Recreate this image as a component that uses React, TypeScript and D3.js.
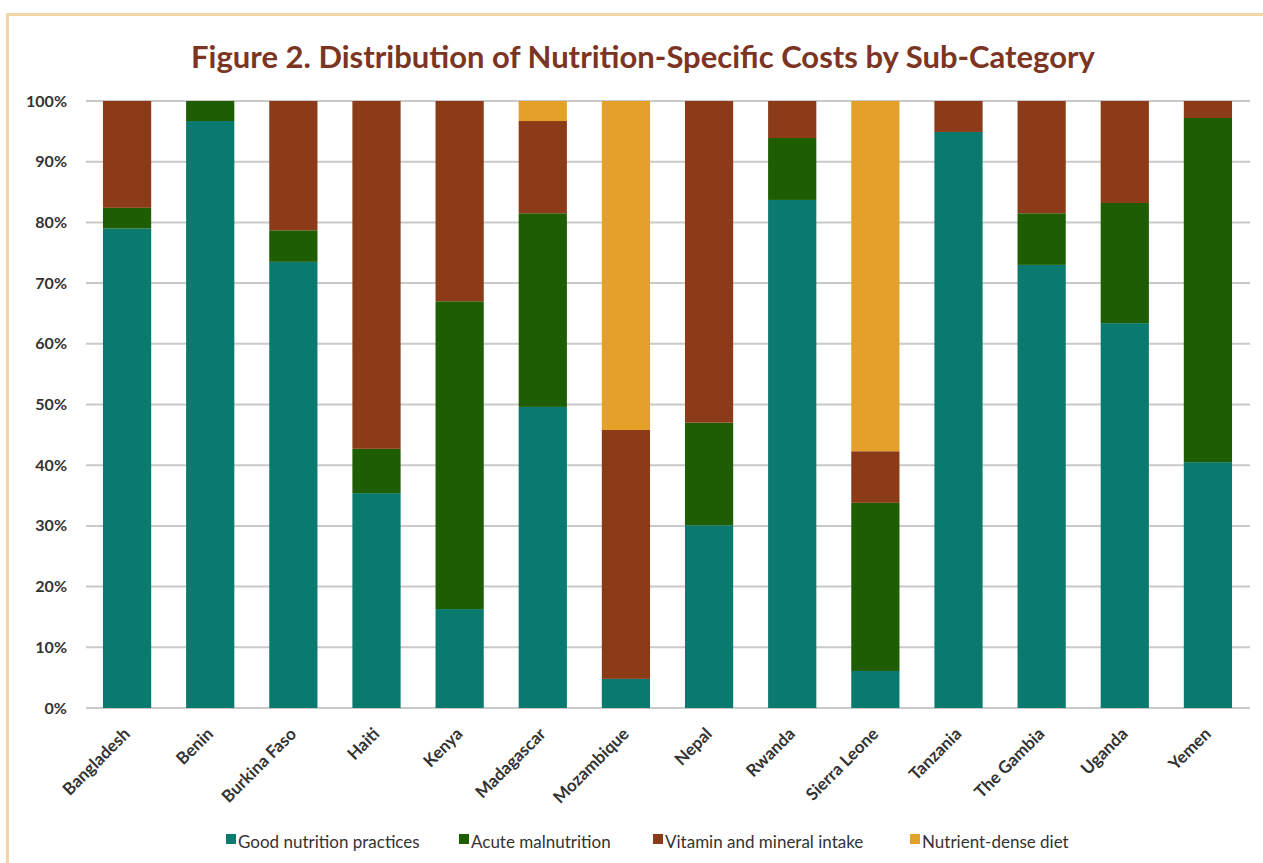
import React, { useEffect, useRef } from 'react';
import * as d3 from 'd3';

const countries = [
  'Bangladesh', 'Benin', 'Burkina Faso', 'Haiti', 'Kenya', 'Madagascar', 'Mozambique',
  'Nepal', 'Rwanda', 'Sierra Leone', 'Tanzania', 'The Gambia', 'Uganda', 'Yemen',
];
const seriesNames = [
  'Good nutrition practices', 'Acute malnutrition', 'Vitamin and mineral intake', 'Nutrient-dense diet',
];
const goodNutrition = [79, 96.7, 73.5, 35.4, 16.3, 49.6, 4.8, 30.1, 83.7, 6.1, 94.9, 73, 63.4, 40.5];
const acuteMalnutrition = [3.4, 3.3, 5.2, 7.3, 50.7, 31.9, 0, 16.9, 10.2, 27.7, 0, 8.5, 19.8, 56.7];
const vitaminMineral = [17.6, 0, 21.3, 57.3, 33, 15.2, 41, 53, 6.1, 8.5, 5.1, 18.5, 16.8, 2.8];
const nutrientDense = [0, 0, 0, 0, 0, 3.3, 54.2, 0, 0, 57.7, 0, 0, 0, 0];
const yTicks = [0, 10, 20, 30, 40, 50, 60, 70, 80, 90, 100];
const colors = ['#0a7a6f', '#1f5d02', '#8c3b19', '#e3a12a'];

const W = 1263;
const H = 863;
const font = 'Lato, "Open Sans", sans-serif';

const App: React.FC = () => {
  const svgRef = useRef<SVGSVGElement>(null);

  useEffect(() => {
    if (!svgRef.current) return;
    const svg = d3.select(svgRef.current);
    svg.selectAll('*').remove();

    const rows = countries.map((c, i) => ({
      country: c,
      s0: goodNutrition[i],
      s1: acuteMalnutrition[i],
      s2: vitaminMineral[i],
      s3: nutrientDense[i],
    }));

    const x = d3.scaleBand<string>().domain(countries).range([85.5, 1249.5]).paddingInner(0.42).paddingOuter(0.21);
    const y = d3.scaleLinear().domain([0, 100]).range([708, 101]);

    // frame
    svg.append('rect').attr('x', 0).attr('y', 0).attr('width', W).attr('height', H).attr('fill', '#fff');
    svg.append('path')
      .attr('d', `M7.5,${H} L7.5,14.5 L${W},14.5`)
      .attr('fill', 'none')
      .attr('stroke', '#f1d7a6')
      .attr('stroke-width', 3);

    // title
    svg.append('text')
      .attr('x', 643)
      .attr('y', 68)
      .attr('text-anchor', 'middle')
      .attr('font-family', font)
      .attr('font-weight', 'bold')
      .attr('font-size', '31px')
      .attr('fill', '#7b3522')
      .text('Figure 2. Distribution of Nutrition-Specific Costs by Sub-Category');

    // gridlines
    svg.append('g')
      .selectAll('line')
      .data(yTicks)
      .join('line')
      .attr('x1', 86)
      .attr('x2', 1250)
      .attr('y1', d => y(d))
      .attr('y2', d => y(d))
      .attr('stroke', '#c9c9c9')
      .attr('stroke-width', 2);

    // y labels
    svg.append('g')
      .selectAll('text')
      .data(yTicks)
      .join('text')
      .attr('x', 67)
      .attr('y', d => y(d) + 5.5)
      .attr('text-anchor', 'end')
      .attr('font-family', font)
      .attr('font-weight', 'bold')
      .attr('font-size', '16px')
      .attr('fill', '#333')
      .text(d => `${d}%`);

    // stacked bars
    const stack = d3.stack<any>().keys(['s0', 's1', 's2', 's3']);
    const layers = stack(rows as any);
    svg.append('g')
      .selectAll('g')
      .data(layers)
      .join('g')
      .attr('fill', (_, i) => colors[i])
      .selectAll('rect')
      .data(d => d)
      .join('rect')
      .attr('x', d => x(d.data.country)!)
      .attr('width', x.bandwidth())
      .attr('y', d => y(d[1]))
      .attr('height', d => Math.max(0, y(d[0]) - y(d[1])));

    // x labels
    svg.append('g')
      .selectAll('text')
      .data(countries)
      .join('text')
      .attr('transform', d => `translate(${x(d)! + x.bandwidth() / 2 + 4},${735}) rotate(-45)`)
      .attr('text-anchor', 'end')
      .attr('font-family', font)
      .attr('font-weight', 'bold')
      .attr('font-size', '17px')
      .attr('fill', '#333')
      .text(d => d);

    // legend
    const legendX = [226, 459, 653, 910];
    const lg = svg.append('g');
    seriesNames.forEach((name, i) => {
      lg.append('rect')
        .attr('x', legendX[i])
        .attr('y', 834)
        .attr('width', 10)
        .attr('height', 10)
        .attr('fill', colors[i]);
      lg.append('text')
        .attr('x', legendX[i] + 12)
        .attr('y', 848)
        .attr('font-family', font)
        .attr('font-size', '17px')
        .attr('fill', '#333')
        .text(name);
    });
  }, []);

  return <svg ref={svgRef} width={W} height={H} style={{ position: 'absolute', left: 0, top: 0, display: 'block' }} />;
};

export default App;
